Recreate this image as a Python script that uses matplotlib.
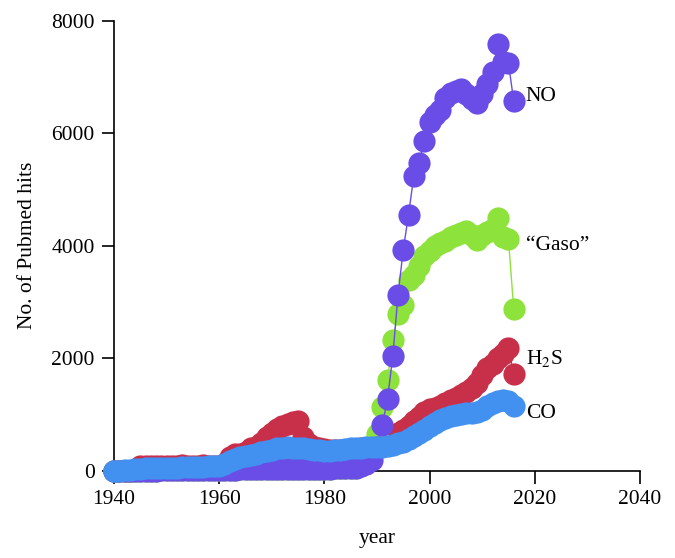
import matplotlib
matplotlib.use("Agg")
import matplotlib.pyplot as plt

plt.rcParams['font.family'] = ['Liberation Serif', 'DejaVu Serif']
plt.rcParams['mathtext.fontset'] = 'stix'

years = list(range(1940, 2017))

# No. of PubMed hits per year
no_hits = [0, 0, 0, 0, 0, 5, 5, 5, 5, 10, 10, 10, 10, 10, 10, 10, 10, 15, 15, 15,
           20, 20, 25, 25, 30, 30, 30, 35, 35, 40, 40, 40, 40, 40, 40, 40, 40, 40, 40, 40,
           40, 40, 45, 45, 50, 55, 60, 80, 120, 200, 420, 818, 1276, 2034, 3132, 3932, 4555, 5237, 5475, 5860,
           6200, 6320, 6420, 6630, 6720, 6750, 6780, 6690, 6600, 6530, 6700, 6870, 7080, 7580, 7270, 7250, 6570]

gaso_hits = [0, 0, 0, 0, 0, 5, 5, 5, 5, 10, 10, 10, 10, 10, 10, 10, 10, 15, 15, 15,
             20, 20, 25, 25, 30, 30, 30, 35, 35, 40, 40, 40, 40, 40, 40, 40, 40, 40, 40, 40,
             40, 40, 45, 45, 50, 55, 60, 80, 150, 450, 650, 1130, 1620, 2330, 2780, 2950, 3400, 3490, 3640, 3810,
             3900, 3990, 4050, 4080, 4150, 4200, 4230, 4260, 4200, 4110, 4200, 4250, 4300, 4500, 4150, 4120, 2880]

h2s_hits = [0, 0, 0, 0, 10, 80, 90, 80, 90, 80, 90, 80, 90, 100, 90, 80, 90, 100, 90, 80,
            90, 130, 250, 300, 300, 340, 400, 430, 500, 600, 680, 750, 800, 830, 870, 880, 600, 480, 420, 400,
            390, 380, 370, 370, 380, 380, 390, 400, 410, 430, 450, 500, 550, 620, 680, 730, 800, 880, 960, 1050,
            1100, 1120, 1150, 1200, 1260, 1300, 1350, 1400, 1480, 1560, 1700, 1830, 1900, 2000, 2080, 2180, 1720]

co_hits = [0, 0, 10, 20, 30, 40, 50, 50, 60, 60, 60, 60, 60, 70, 70, 70, 70, 70, 80, 80,
           80, 120, 180, 220, 250, 270, 290, 310, 330, 360, 380, 400, 410, 420, 410, 400, 400, 390, 380, 370,
           360, 360, 370, 380, 390, 400, 410, 410, 420, 430, 430, 430, 440, 460, 490, 520, 570, 620, 670, 730,
           790, 850, 900, 940, 970, 990, 1010, 1030, 1030, 1040, 1090, 1150, 1200, 1250, 1260, 1240, 1150]

series = [("H$_2$S", h2s_hits, "#c8304a"),
          ("\u201cGaso\u201d", gaso_hits, "#8de23c"),
          ("NO", no_hits, "#6a4ce6"),
          ("CO", co_hits, "#4290f0")]

label_y = {"NO": 6650, "\u201cGaso\u201d": 4000, "H$_2$S": 2000, "CO": 1020}

fig = plt.figure(figsize=(6.75, 5.58), dpi=100)
ax = fig.add_axes([0.169, 0.156, 0.779, 0.807])

for i, (name, vals, col) in enumerate(series):
    ax.plot(years, vals, color=col, lw=1.0, marker='o', markersize=16,
            markeredgewidth=0, clip_on=False, zorder=2 + i)
    ax.text(2018.3, label_y[name], name, fontsize=15.5, va='center', ha='left')

ax.set_xlim(1940, 2040)
ax.set_ylim(0, 8000)
ax.set_xticks([1940, 1960, 1980, 2000, 2020, 2040])
ax.set_yticks([0, 2000, 4000, 6000, 8000])
ax.spines['top'].set_visible(False)
ax.spines['right'].set_visible(False)
ax.tick_params(direction='out', length=9, width=1.2, labelsize=15.5, pad=5)
for s in ('left', 'bottom'):
    ax.spines[s].set_linewidth(1.2)

ax.set_xlabel('year', fontsize=15.5, labelpad=14)
ax.set_ylabel('No. of Pubmed hits', fontsize=15.5, labelpad=10)

fig.savefig('out.png', dpi=100)
